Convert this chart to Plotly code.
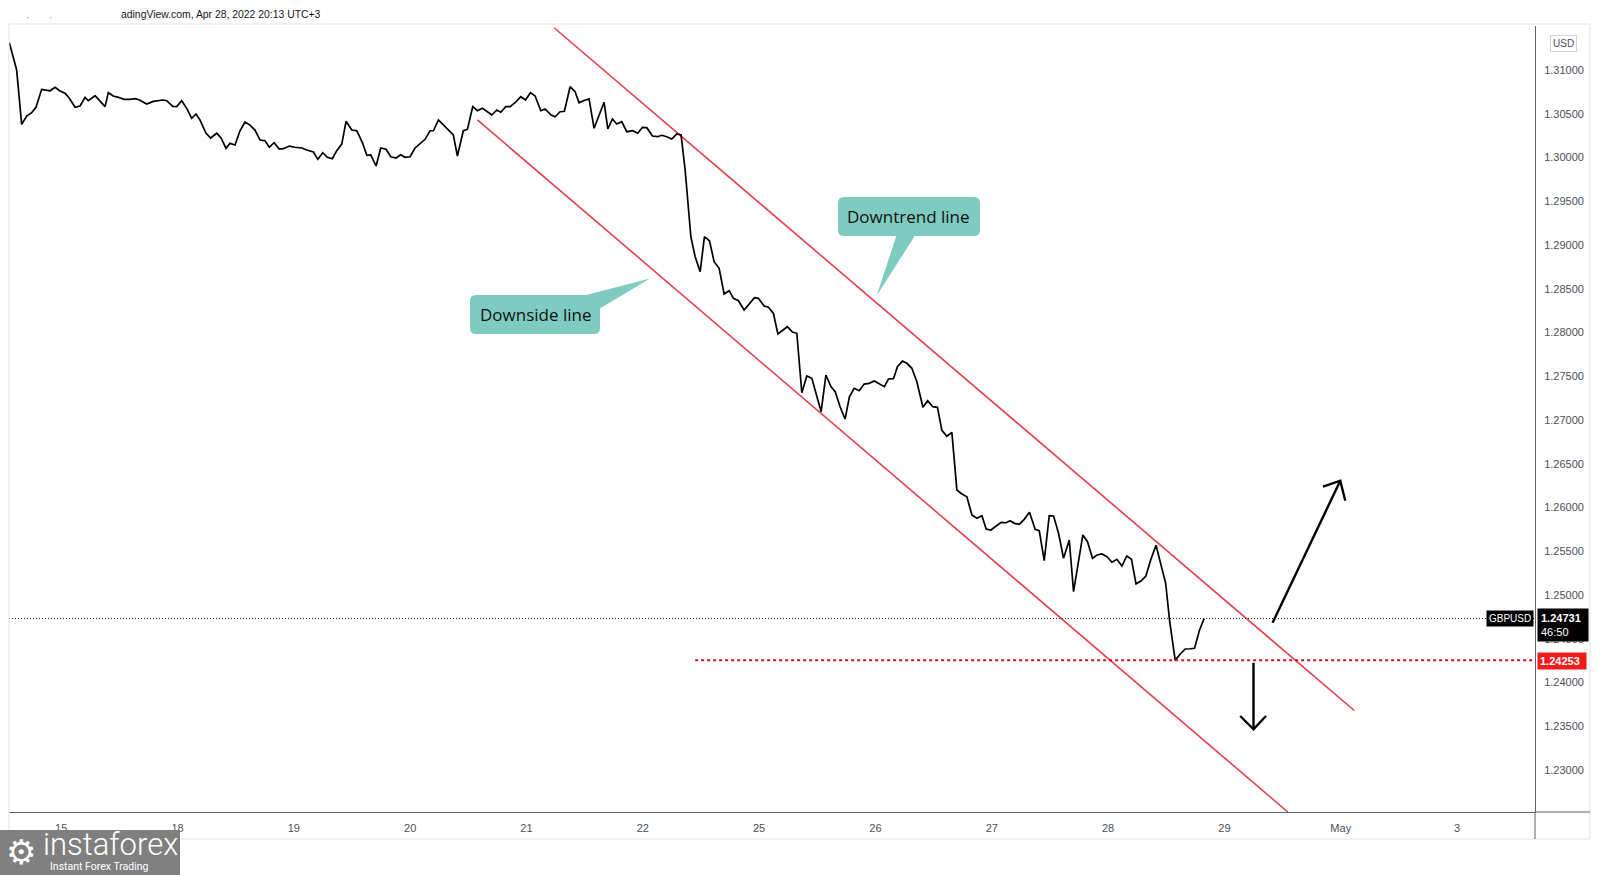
import plotly.graph_objects as go

# ---------------- data ----------------
tick_pos = list(range(13))
tick_text = ["15", "18", "19", "20", "21", "22", "25", "26", "27", "28", "29", "May", "3"]
price_ticks = [1.23 + 0.005 * i for i in range(17)]

x_day = [-0.446, -0.383, -0.340, -0.297, -0.254, -0.217, -0.168, -0.096, -0.053, -0.010,
         0.033, 0.070, 0.119, 0.162, 0.205, 0.233, 0.291, 0.334, 0.377, 0.405,
         0.448, 0.491, 0.540, 0.592, 0.635, 0.672, 0.735, 0.792, 0.873, 0.907,
         0.959, 0.993, 1.036, 1.079, 1.122, 1.159, 1.193, 1.245, 1.285, 1.337,
         1.374, 1.417, 1.451, 1.494, 1.537, 1.580, 1.623, 1.666, 1.709, 1.752,
         1.789, 1.830, 1.875, 1.910, 1.961, 2.010, 2.068, 2.111, 2.168, 2.206,
         2.249, 2.288, 2.331, 2.369, 2.412, 2.449, 2.498, 2.541, 2.592, 2.627,
         2.661, 2.707, 2.747, 2.793, 2.833, 2.879, 2.919, 2.956, 2.999, 3.042,
         3.091, 3.128, 3.171, 3.200, 3.243, 3.285, 3.329, 3.371, 3.406, 3.457,
         3.492, 3.538, 3.578, 3.621, 3.664, 3.702, 3.745, 3.779, 3.822, 3.859,
         3.902, 3.951, 3.991, 4.034, 4.074, 4.123, 4.160, 4.212, 4.246, 4.289,
         4.326, 4.375, 4.418, 4.452, 4.489, 4.538, 4.581, 4.624, 4.667, 4.699,
         4.739, 4.776, 4.819, 4.862, 4.914, 4.957, 4.997, 5.034, 5.083, 5.126,
         5.163, 5.206, 5.249, 5.292, 5.329, 5.364, 5.384, 5.413, 5.450, 5.493,
         5.530, 5.573, 5.613, 5.656, 5.699, 5.742, 5.779, 5.822, 5.871, 5.917,
         5.960, 5.994, 6.043, 6.080, 6.123, 6.161, 6.204, 6.243, 6.286, 6.324,
         6.367, 6.410, 6.453, 6.496, 6.533, 6.574, 6.617, 6.654, 6.696, 6.739,
         6.776, 6.817, 6.860, 6.903, 6.946, 6.989, 7.034, 7.077, 7.112, 7.155,
         7.189, 7.232, 7.270, 7.313, 7.356, 7.408, 7.449, 7.492, 7.533, 7.571,
         7.614, 7.657, 7.700, 7.743, 7.786, 7.829, 7.872, 7.915, 7.952, 7.992,
         8.038, 8.081, 8.124, 8.158, 8.195, 8.236, 8.279, 8.324, 8.373, 8.408,
         8.451, 8.494, 8.531, 8.574, 8.617, 8.666, 8.703, 8.746, 8.783, 8.823,
         8.866, 8.904, 8.947, 8.990, 9.033, 9.076, 9.119, 9.160, 9.201, 9.240,
         9.282, 9.325, 9.366, 9.412, 9.453, 9.495, 9.528, 9.577, 9.620, 9.663,
         9.706, 9.743, 9.786, 9.826]

price = [1.31312, 1.31000, 1.30379, 1.30474, 1.30512, 1.30574, 1.30779, 1.30763, 1.30802, 1.30760,
         1.30734, 1.30677, 1.30574, 1.30589, 1.30688, 1.30649, 1.30706, 1.30646, 1.30581, 1.30741,
         1.30703, 1.30688, 1.30665, 1.30665, 1.30672, 1.30657, 1.30611, 1.30642, 1.30657, 1.30649,
         1.30585, 1.30581, 1.30649, 1.30562, 1.30448, 1.30497, 1.30429, 1.30277, 1.30223, 1.30277,
         1.30223, 1.30105, 1.30162, 1.30143, 1.30306, 1.30406, 1.30371, 1.30314, 1.30200, 1.30192,
         1.30117, 1.30169, 1.30097, 1.30101, 1.30131, 1.30117, 1.30109, 1.30086, 1.30063, 1.29979,
         1.30055, 1.30002, 1.29986, 1.30078, 1.30154, 1.30414, 1.30314, 1.30306, 1.30162, 1.30025,
         1.30029, 1.29903, 1.30109, 1.30094, 1.30009, 1.29994, 1.30032, 1.30002, 1.30009, 1.30109,
         1.30162, 1.30208, 1.30306, 1.30306, 1.30429, 1.30371, 1.30306, 1.30257, 1.30017, 1.30306,
         1.30322, 1.30581, 1.30535, 1.30562, 1.30523, 1.30486, 1.30543, 1.30517, 1.30581, 1.30581,
         1.30626, 1.30695, 1.30657, 1.30741, 1.30703, 1.30535, 1.30554, 1.30486, 1.30466, 1.30523,
         1.30528, 1.30809, 1.30752, 1.30626, 1.30649, 1.30669, 1.30334, 1.30486, 1.30631, 1.30326,
         1.30440, 1.30383, 1.30409, 1.30295, 1.30306, 1.30277, 1.30345, 1.30341, 1.30246, 1.30238,
         1.30254, 1.30238, 1.30211, 1.30269, 1.30257, 1.29857, 1.29514, 1.29095, 1.28866, 1.28695,
         1.29095, 1.29049, 1.28809, 1.28734, 1.28440, 1.28478, 1.28391, 1.28363, 1.28257, 1.28334,
         1.28398, 1.28391, 1.28303, 1.28288, 1.28219, 1.27983, 1.28029, 1.28066, 1.28006, 1.27991,
         1.27312, 1.27503, 1.27477, 1.27266, 1.27095, 1.27514, 1.27381, 1.27323, 1.27152, 1.27011,
         1.27266, 1.27362, 1.27335, 1.27411, 1.27419, 1.27446, 1.27411, 1.27381, 1.27469, 1.27472,
         1.27609, 1.27674, 1.27648, 1.27591, 1.27438, 1.27145, 1.27221, 1.27152, 1.27145, 1.26882,
         1.26814, 1.26859, 1.26200, 1.26154, 1.26123, 1.25914, 1.25877, 1.25906, 1.25754, 1.25743,
         1.25789, 1.25831, 1.25826, 1.25849, 1.25819, 1.25808, 1.25865, 1.25945, 1.25751, 1.25735,
         1.25392, 1.25906, 1.25903, 1.25705, 1.25419, 1.25629, 1.25038, 1.25400, 1.25686, 1.25609,
         1.25419, 1.25457, 1.25469, 1.25438, 1.25374, 1.25408, 1.25331, 1.25446, 1.25408, 1.25126,
         1.25160, 1.25217, 1.25400, 1.25568, 1.25362, 1.25134, 1.24714, 1.24253, 1.24326, 1.24383,
         1.24386, 1.24391, 1.24600, 1.24731]

last_price = 1.24731
support_level = 1.24253
support_start_day = 5.45

upper_line_x = [4.237, 11.116]
upper_line_y = [1.31483, 1.23680]
lower_line_x = [3.578, 10.545]
lower_line_y = [1.30429, 1.22520]

up_arrow_x = [10.414, 10.996]
up_arrow_y = [1.24683, 1.26306]
up_head_x = [10.847, 10.996, 11.039]
up_head_y = [1.26238, 1.26306, 1.26078]
down_arrow_x = [10.250, 10.250]
down_arrow_y = [1.24226, 1.23465]
down_head_x = [10.136, 10.250, 10.357]
down_head_y = [1.23617, 1.23465, 1.23617]

X_RANGE = [-0.4488, 12.670]
Y_RANGE = [1.22520, 1.31503]

# ---------------- layout geometry helpers (pixels -> paper) ----------------
W, H = 1600, 875
PL, PR, PT, PB = 9, 1535, 26, 812


def fx(p):
    return (p - PL) / (PR - PL)


def fy(p):
    return (PB - p) / (PB - PT)


def rounded_box(x0, y0, x1, y1, r):
    rx = r / (PR - PL)
    ry = r / (PB - PT)
    a, b, c, d = fx(x0), fy(y1), fx(x1), fy(y0)  # left, bottom, right, top
    return (f"M {a+rx},{b} L {c-rx},{b} Q {c},{b} {c},{b+ry} "
            f"L {c},{d-ry} Q {c},{d} {c-rx},{d} L {a+rx},{d} "
            f"Q {a},{d} {a},{d-ry} L {a},{b+ry} Q {a},{b} {a+rx},{b} Z")


def tri(pts):
    return "M " + " L ".join(f"{fx(x)},{fy(y)}" for x, y in pts) + " Z"


RED = "#e5404c"
TEAL = "#7ecbbf"
AXIS_TXT = "#4c505b"

fig = go.Figure()

# channel lines
fig.add_trace(go.Scatter(x=upper_line_x, y=upper_line_y, mode="lines",
                         line=dict(color=RED, width=1.6), hoverinfo="skip"))
fig.add_trace(go.Scatter(x=lower_line_x, y=lower_line_y, mode="lines",
                         line=dict(color=RED, width=1.6), hoverinfo="skip"))

# price line
fig.add_trace(go.Scatter(x=x_day, y=price, mode="lines",
                         line=dict(color="#000000", width=1.7), name="GBPUSD"))

# arrows
for ax_, ay_ in [(up_arrow_x, up_arrow_y), (up_head_x, up_head_y),
                 (down_arrow_x, down_arrow_y), (down_head_x, down_head_y)]:
    fig.add_trace(go.Scatter(x=ax_, y=ay_, mode="lines",
                             line=dict(color="#000000", width=2.4), hoverinfo="skip"))

shapes = []
shapes.append(dict(type="line", xref="x", yref="y", x0=X_RANGE[0], x1=X_RANGE[1],
                   y0=last_price, y1=last_price, line=dict(color="#222", width=1, dash="1px,2px")))
shapes.append(dict(type="line", xref="x", yref="y", x0=support_start_day, x1=X_RANGE[1],
                   y0=support_level, y1=support_level,
                   line=dict(color="#c8161d", width=2, dash="dot")))

FR = "#e0e3eb"
shapes.append(dict(type="line", xref="paper", yref="paper", x0=fx(9), x1=fx(1590),
                   y0=fy(24), y1=fy(24), line=dict(color=FR, width=1)))
shapes.append(dict(type="line", xref="paper", yref="paper", x0=fx(9), x1=fx(1590),
                   y0=fy(839), y1=fy(839), line=dict(color=FR, width=1)))
shapes.append(dict(type="line", xref="paper", yref="paper", x0=fx(1590), x1=fx(1590),
                   y0=fy(24), y1=fy(839), line=dict(color=FR, width=1)))
shapes.append(dict(type="line", xref="paper", yref="paper", x0=fx(9), x1=fx(9),
                   y0=fy(24), y1=fy(839), line=dict(color=FR, width=1)))
shapes.append(dict(type="line", xref="paper", yref="paper", x0=fx(1535), x1=fx(1590),
                   y0=fy(812), y1=fy(812), line=dict(color="#5d606b", width=1)))
shapes.append(dict(type="line", xref="paper", yref="paper", x0=fx(1535), x1=fx(1535),
                   y0=fy(812), y1=fy(839), line=dict(color="#5d606b", width=1)))

# callouts
shapes.append(dict(type="path", xref="paper", yref="paper",
                   path=rounded_box(838, 197, 980, 236, 6), fillcolor=TEAL, line=dict(width=0)))
shapes.append(dict(type="path", xref="paper", yref="paper",
                   path=tri([(897, 234), (916, 234), (876.5, 296)]), fillcolor=TEAL, line=dict(width=0)))
shapes.append(dict(type="path", xref="paper", yref="paper",
                   path=rounded_box(470, 295, 600, 334, 6), fillcolor=TEAL, line=dict(width=0)))
shapes.append(dict(type="path", xref="paper", yref="paper",
                   path=tri([(586, 295), (599, 309), (650, 278.5)]), fillcolor=TEAL, line=dict(width=0)))

# logo box
shapes.append(dict(type="rect", xref="paper", yref="paper", x0=fx(0), x1=fx(180),
                   y0=fy(875), y1=fy(830), fillcolor="#808080", line=dict(width=0)))

annotations = []
annotations.append(dict(xref="paper", yref="paper", x=fx(908.5), y=fy(216.5),
                        text="Downtrend line", showarrow=False,
                        font=dict(family="Open Sans", size=17, color="#111"),
                        xanchor="center", yanchor="middle"))
annotations.append(dict(xref="paper", yref="paper", x=fx(535), y=fy(314),
                        text="Downside line", showarrow=False,
                        font=dict(family="Open Sans", size=17, color="#111"),
                        xanchor="center", yanchor="middle"))
annotations.append(dict(xref="paper", yref="paper", x=fx(119), y=fy(14.5),
                        text="adingView.com, Apr 28, 2022 20:13 UTC+3", showarrow=False,
                        font=dict(family="Liberation Sans", size=10.4, color="#131722"),
                        xanchor="left", yanchor="middle"))
annotations.append(dict(xref="paper", yref="paper", x=fx(27), y=fy(18),
                        text="·", showarrow=False,
                        font=dict(family="Liberation Sans", size=10, color="#888"),
                        xanchor="center", yanchor="middle"))
annotations.append(dict(xref="paper", yref="paper", x=fx(50), y=fy(18),
                        text="·", showarrow=False,
                        font=dict(family="Liberation Sans", size=10, color="#888"),
                        xanchor="center", yanchor="middle"))
annotations.append(dict(xref="paper", yref="paper", x=fx(1563.5), y=fy(43),
                        text="USD", showarrow=False,
                        font=dict(family="Liberation Sans", size=10, color="#4c505b"),
                        bordercolor="#d1d4dc", borderwidth=1, borderpad=2, bgcolor="white",
                        xanchor="center", yanchor="middle"))
annotations.append(dict(xref="paper", yref="paper", x=fx(1534), y=fy(618.5),
                        text="GBPUSD", showarrow=False,
                        font=dict(family="Liberation Sans", size=10, color="white"),
                        bgcolor="#000", borderpad=2, xanchor="right", yanchor="middle"))
annotations.append(dict(xref="paper", yref="paper", x=fx(1537), y=fy(625),
                        text=f"<b>{last_price:.5f}</b><br>46:50", showarrow=False,
                        font=dict(family="Liberation Sans", size=11, color="white"),
                        bgcolor="#000", borderpad=3, width=44, align="left",
                        xanchor="left", yanchor="middle"))
annotations.append(dict(xref="paper", yref="paper", x=fx(1537), y=fy(660.5),
                        text=f"<b>{support_level:.5f}</b>", showarrow=False,
                        font=dict(family="Liberation Sans", size=11, color="white"),
                        bgcolor="#f21a1a", borderpad=2, width=44, align="left",
                        xanchor="left", yanchor="middle"))
annotations.append(dict(xref="paper", yref="paper", x=fx(21), y=fy(852),
                        text="⚙", showarrow=False,
                        font=dict(family="DejaVu Sans", size=34, color="white"),
                        xanchor="center", yanchor="middle"))
annotations.append(dict(xref="paper", yref="paper", x=fx(41), y=fy(845),
                        text="instaforex", showarrow=False,
                        font=dict(family="Roboto", size=31, color="white", weight=300),
                        xanchor="left", yanchor="middle"))
annotations.append(dict(xref="paper", yref="paper", x=fx(48), y=fy(866),
                        text="Instant Forex Trading", showarrow=False,
                        font=dict(family="Roboto", size=10.5, color="white"),
                        xanchor="left", yanchor="middle"))

fig.update_layout(
    width=W, height=H,
    margin=dict(l=PL, r=W - PR, t=PT, b=H - PB, pad=0),
    paper_bgcolor="white", plot_bgcolor="white",
    showlegend=False,
    shapes=shapes, annotations=annotations,
    xaxis=dict(range=X_RANGE, tickvals=tick_pos, ticktext=tick_text,
               showgrid=False, zeroline=False, showline=True, linecolor="#5d606b", linewidth=1,
               ticks="", ticklabelstandoff=6,
               tickfont=dict(family="Liberation Sans", size=11, color=AXIS_TXT),
               automargin=False, fixedrange=True),
    yaxis=dict(range=Y_RANGE, side="right", tickvals=price_ticks,
               ticktext=[f"{v:.5f}" for v in price_ticks],
               showgrid=False, zeroline=False, showline=True, linecolor="#5d606b", linewidth=1,
               ticks="", ticklabelstandoff=6,
               tickfont=dict(family="Liberation Sans", size=11, color=AXIS_TXT),
               automargin=False, fixedrange=True),
)

fig.write_html("out.html")
